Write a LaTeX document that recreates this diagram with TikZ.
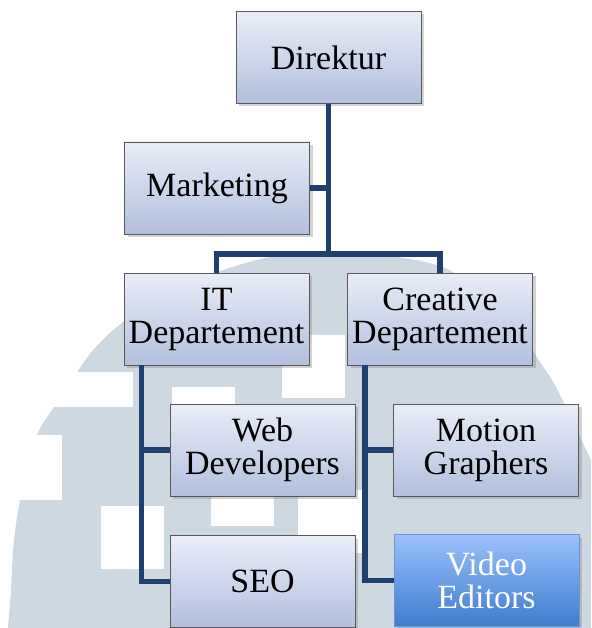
\documentclass[tikz,border=0pt]{standalone}
\usepackage{fontspec}
\setmainfont{Liberation Serif}
\usetikzlibrary{calc}
\usetikzlibrary{shadows}

\definecolor{wmgray}{RGB}{206,216,225}
\definecolor{boxtop}{RGB}{233,237,247}
\definecolor{boxbot}{RGB}{178,191,222}
\definecolor{vidtop}{RGB}{155,193,252}
\definecolor{vidbot}{RGB}{62,124,206}
\definecolor{linkblue}{RGB}{31,63,110}

\begin{document}
\begin{tikzpicture}[x=1pt, y=-1pt,
        orgbox/.style={rectangle, draw=black!65, line width=0.8pt, top color=boxtop, bottom color=boxbot,
            minimum width=185pt, minimum height=92pt, inner sep=0pt, align=center,
            font={\fontsize{34}{33}\selectfont},
            drop shadow={shadow xshift=3pt, shadow yshift=-3pt, opacity=0.35}},
        hibox/.style={orgbox, draw=vidbot!80, top color=vidtop, bottom color=vidbot, text=white},
        link/.style={draw=linkblue, line width=5.5pt}]
            \useasboundingbox (0,0) rectangle (591,628);
            \fill[wmgray] plot[smooth] coordinates {(8,628) (11,590) (14,540) (22,490) (37,435) (52,410)
                (70,383) (93,350) (123,322) (170,290) (217,272) (270,257) (330,252) (390,256) (445,268)
                (490,300) (520,332) (540,362) (555,385) (572,420) (591,460)} -- (591,628) -- cycle;
            \foreach \xa/\ya/\xb/\yb in {0/372/133/407, 0/435/62/500, 101/506/164/569, 172/387/235/430,
                211/470/274/526, 298/490/362/553, 282/335/345/398}
            {
                \fill[white] (\xa,\ya) rectangle (\xb,\yb);
            }
            \node[orgbox] (dir) at (328.5,57.5) {Direktur};
            \node[orgbox] (mkt) at (217,188) {Marketing};
            \node[orgbox] (itdep) at (216.5,319) {IT\\Departement};
            \node[orgbox] (credep) at (440,319) {Creative\\Departement};
            \node[orgbox] (webdev) at (262.5,450) {Web\\Developers};
            \node[orgbox] (motgr) at (486,450) {Motion\\Graphers};
            \node[orgbox] (seo) at (262.5,581.5) {SEO};
            \node[hibox] (vided) at (486.5,580.5) {Video\\Editors};
            \coordinate (bar) at (328.5,254);
            \draw[link] (dir.south) -- (dir.south |- bar);
            \draw[link] (mkt.east) -- (mkt.east -| dir.south);
            \draw[link] (itdep.north) -- (itdep.north |- bar) -- (credep.north |- bar) -- (credep.north);
            \coordinate (itline) at ($(itdep.south west)+(18,0)$);
            \coordinate (creline) at ($(credep.south west)+(18,0)$);
            \draw[link] (itline) |- (webdev.west);
            \draw[link] (itline) |- (seo.west);
            \draw[link] (creline) |- (motgr.west);
            \draw[link] (creline) |- (vided.west);
        \end{tikzpicture}
\end{document}
